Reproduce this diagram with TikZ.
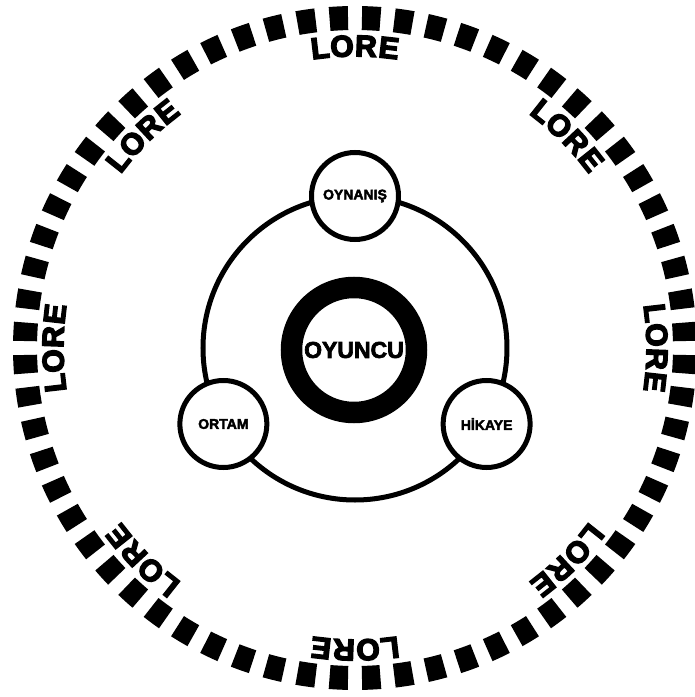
\documentclass[tikz,border=0pt]{standalone}
\usepackage{fontspec}
\setmainfont{Liberation Sans}[BoldFeatures={FakeBold=3}]
\newfontfamily\lorefont{Liberation Sans}[BoldFeatures={FakeBold=5}]
\usetikzlibrary{positioning}
\definecolor{LoreInk}{RGB}{0,0,0}
\tikzset{
  core/.style={circle, draw=LoreInk, line width=21.5pt, minimum size=125pt, inner sep=0pt,
    fill=white, font=\fontsize{23}{23}\selectfont\bfseries},
  pillar/.style={circle, draw=LoreInk, line width=5pt, minimum size=87pt, inner sep=0pt,
    fill=white, font=\fontsize{14}{14}\selectfont\bfseries},
  loretext/.style={inner sep=0pt, text=LoreInk, font=\lorefont\fontsize{30}{30}\selectfont\bfseries},
  ring/.style={draw=LoreInk, line width=5pt}
}
\begin{document}
\begin{tikzpicture}[x=1pt, y=1pt]
  \useasboundingbox (-355,-349) rectangle (340,348);
  % outer dashed band
  \foreach \k in {0,...,63}{
    \pgfmathsetmacro{\a}{2.8125+5.625*\k}
    \fill[LoreInk] (\a-1.6:318) arc[start angle=\a-1.6, end angle=\a+1.6, radius=318]
      -- (\a+1.6:342) arc[start angle=\a+1.6, end angle=\a-1.6, radius=342] -- cycle;
  }
  % LORE, one letter at a time along the band
  \foreach \t [count=\i] in {0,45,...,315}
    \foreach \c/\s [count=\j] in {L/-35, O/-13, R/11, E/34}
      \node[loretext, rotate={\t-\s*0.19-90}] (lore\i-\j) at ({\t-\s*0.19}:302) {\c};
  % middle ring and its three circles
  \draw[ring] (0,0) circle[radius=152];
  \node[core] (oyuncu) at (-1,-2) {OYUNCU};
  \node[pillar] (oynanis) at (90:152) {OYNANIŞ};
  \node[pillar] (ortam) at (210:152) {ORTAM};
  \node[pillar] (hikaye) at (330:152) {HİKAYE};
\end{tikzpicture}
\end{document}
